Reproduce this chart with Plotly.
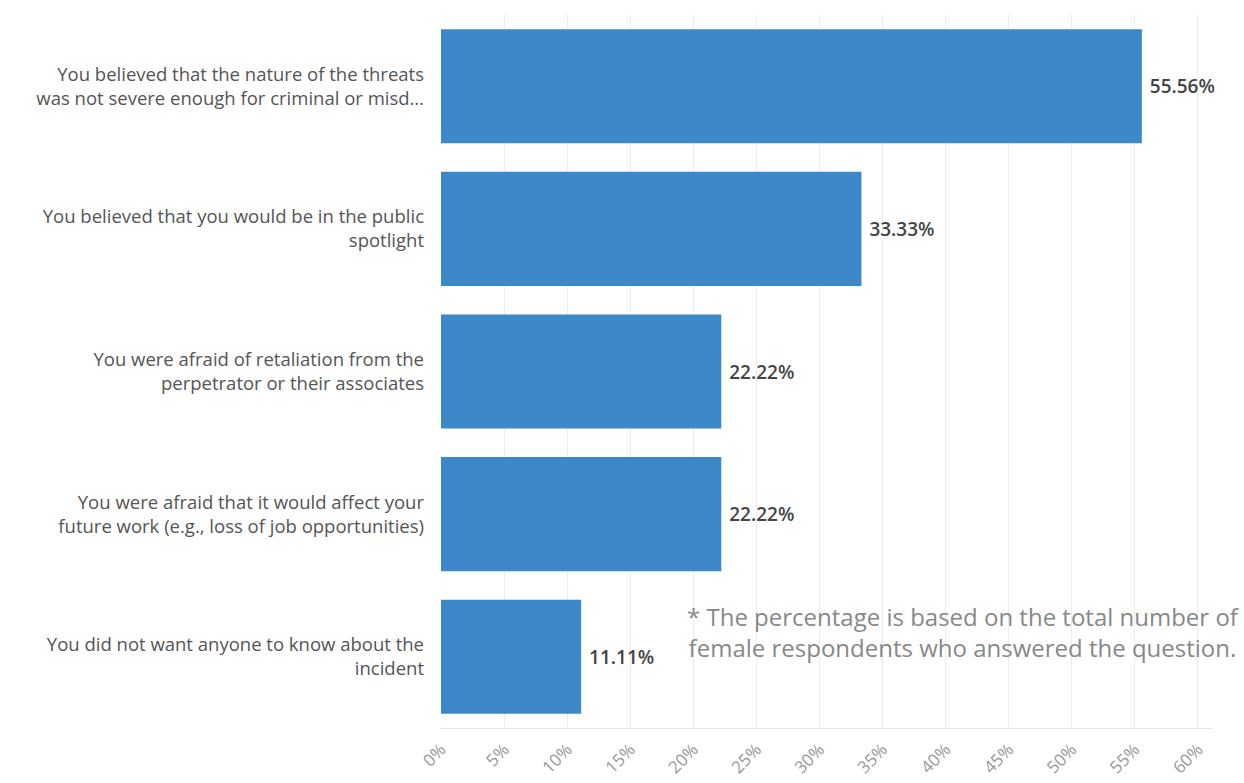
import plotly.graph_objects as go

categories = [
    "You believed that the nature of the threats<br>was not severe enough for criminal or misd…",
    "You believed that you would be in the public<br>spotlight",
    "You were afraid of retaliation from the<br>perpetrator or their associates",
    "You were afraid that it would affect your<br>future work (e.g., loss of job opportunities)",
    "You did not want anyone to know about the<br>incident",
]
values = [55.56, 33.33, 22.22, 22.22, 11.11]
tick_vals = [0, 5, 10, 15, 20, 25, 30, 35, 40, 45, 50, 55, 60]
tick_text = [f"{v}%" for v in tick_vals]
footnote = ("* The percentage is based on the total number of<br>"
            "female respondents who answered the question.")

fig = go.Figure(
    go.Bar(
        x=values,
        y=categories,
        orientation="h",
        marker=dict(color="#3d88c9", line=dict(width=0)),
        text=[f" {v:.2f}%" for v in values],
        textposition="outside",
        textfont=dict(family="Open Sans, sans-serif", size=19, color="#444444", weight=600),
        cliponaxis=False,
    )
)

fig.update_layout(
    width=1244,
    height=783,
    margin=dict(l=441, r=31, t=15, b=55, autoexpand=False),
    paper_bgcolor="white",
    plot_bgcolor="white",
    bargap=0.2,
    showlegend=False,
    font=dict(family="Open Sans, sans-serif"),
)

fig.update_yaxes(
    autorange="reversed",
    automargin=False,
    ticks="",
    ticklabelstandoff=16,
    tickfont=dict(family="Open Sans, sans-serif", size=18.5, color="#555555"),
    showgrid=False,
    showline=False,
)

fig.update_xaxes(
    range=[0, 61.2],
    automargin=False,
    tickvals=tick_vals,
    ticktext=tick_text,
    tickangle=-45,
    ticklabelstandoff=4,
    tickfont=dict(family="Open Sans, sans-serif", size=17, color="#999999"),
    showgrid=True,
    gridcolor="#ececec",
    gridwidth=1,
    zeroline=False,
    showline=True,
    linecolor="#e6e6e6",
    linewidth=1,
    ticks="",
)

fig.add_annotation(
    text=footnote,
    xref="paper", yref="paper",
    x=1.037, y=0.135,
    xanchor="right", yanchor="middle",
    align="center",
    showarrow=False,
    font=dict(family="Open Sans, sans-serif", size=24, color="#888888"),
)

fig.write_html("out.html")
